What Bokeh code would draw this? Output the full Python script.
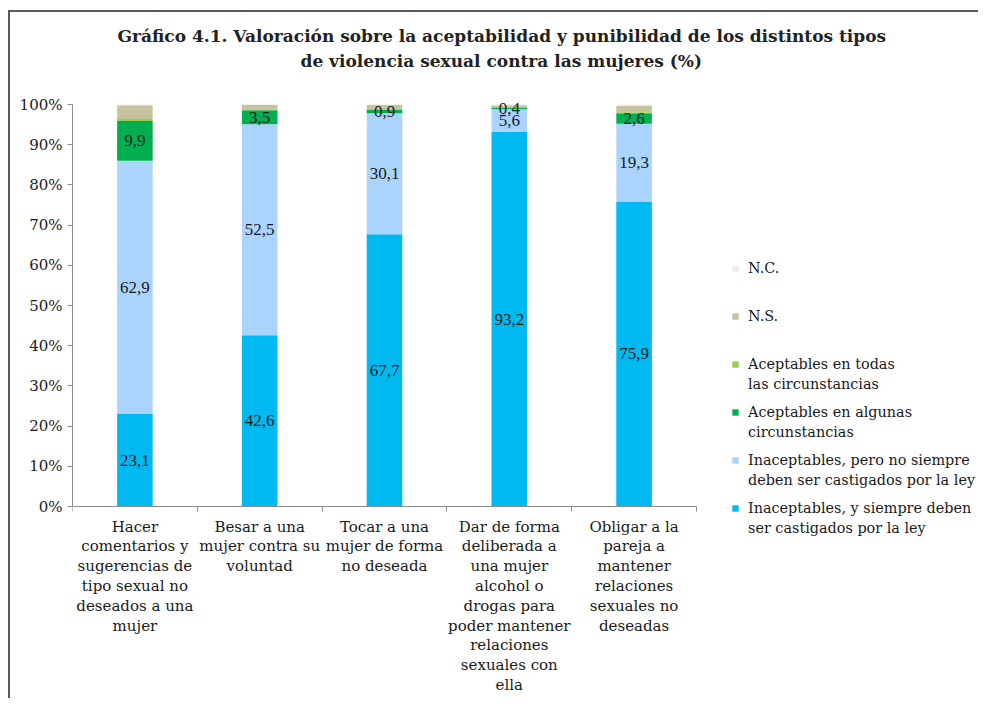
from bokeh.plotting import figure
from bokeh.models import (Range1d, FixedTicker, Legend, LegendItem, ColumnDataSource,
                          LabelSet, PrintfTickFormatter, Title)
from bokeh.embed import file_html
from bokeh.resources import INLINE

# ---------------- data ----------------
categories = [
    "Hacer\ncomentarios y\nsugerencias de\ntipo sexual no\ndeseados a una\nmujer",
    "Besar a una\nmujer contra su\nvoluntad",
    "Tocar a una\nmujer de forma\nno deseada",
    "Dar de forma\ndeliberada a\nuna mujer\nalcohol o\ndrogas para\npoder mantener\nrelaciones\nsexuales con\nella",
    "Obligar a la\npareja a\nmantener\nrelaciones\nsexuales no\ndeseadas",
]
siempre = [23.1, 42.6, 67.7, 93.2, 75.9]   # Inaceptables, y siempre deben ser castigados por la ley
pero_no = [62.9, 52.5, 30.1, 5.6, 19.3]    # Inaceptables, pero no siempre deben ser castigados
algunas = [9.9, 3.5, 0.9, 0.4, 2.6]        # Aceptables en algunas circunstancias
todas = [0.5, 0.2, 0.2, 0.2, 0.3]          # Aceptables en todas las circunstancias
ns = [3.4, 1.1, 1.0, 0.4, 1.5]             # N.S.
nc = [0.2, 0.1, 0.1, 0.2, 0.4]             # N.C.

series_keys = ["siempre", "pero_no", "algunas", "todas", "ns", "nc"]
legend_first = ["Inaceptables, y siempre deben", "Inaceptables, pero no siempre",
                "Aceptables en algunas", "Aceptables en todas", "N.S.", "N.C."]
legend_second = ["ser castigados por la ley", "deben ser castigados por la ley",
                 "circunstancias", "las circunstancias", "", ""]
colors = ["#00B9F1", "#AAD4FE", "#00B050", "#92D050", "#C8C2A0", "#EEEEE4"]
labeled = ["siempre", "pero_no", "algunas"]

y_ticks = list(range(0, 101, 10))
title_line1 = "Gráfico 4.1. Valoración sobre la aceptabilidad y punibilidad de los distintos tipos"
title_line2 = "de violencia sexual contra las mujeres (%)"

FONT = "DejaVu Serif"
TXT = "#1a1a1a"
AX = "#8c8c8c"

# ---------------- layout constants (page pixels) ----------------
OX, OY = 10, 12                # canvas origin on the page (after css margin + border)
W, H = 970, 688
FRAME_L, FRAME_T, FRAME_R, FRAME_B = 72, 72, 980, 690
ZERO_Y, HUNDRED_Y = 506, 104
PX_PER_CAT = 124.8
px_per_pct = (ZERO_Y - HUNDRED_Y) / 100.0
y_start = -(FRAME_B - ZERO_Y) / px_per_pct
y_end = 100 + (HUNDRED_Y - FRAME_T) / px_per_pct
x_end = 0.5 + (FRAME_R - FRAME_L) / PX_PER_CAT

# ---------------- chart ----------------
n = len(categories)
xpos = [i + 1 for i in range(n)]
data = dict(x=xpos, siempre=siempre, pero_no=pero_no, algunas=algunas, todas=todas, ns=ns, nc=nc)
src = ColumnDataSource(data)

p = figure(width=W, height=H, output_backend="svg", toolbar_location=None,
           x_range=Range1d(0.5, x_end), y_range=Range1d(y_start, y_end),
           min_border_left=FRAME_L - OX, min_border_right=OX + W - FRAME_R,
           min_border_top=FRAME_T - OY, min_border_bottom=OY + H - FRAME_B)
p.styles = {"margin-top": "10px", "margin-left": "8px",
            "border-top": "2px solid #5a5a5a", "border-left": "2px solid #5a5a5a",
            "border-right": "0px none", "border-bottom": "0px none"}

renderers = p.vbar_stack(series_keys, x="x", width=0.285, color=colors, source=src, line_color=None)
ghost = p.vbar(x="x", top="nc", width=0.285, source=src, fill_alpha=0, line_alpha=0)

lx, ly, lt = [], [], []
for i in range(n):
    base = 0.0
    for k in series_keys:
        v = data[k][i]
        if k in labeled:
            lx.append(xpos[i])
            ly.append(base + v / 2)
            lt.append(f"{v:.1f}".replace(".", ","))
        base += v
lab_src = ColumnDataSource(dict(x=lx, y=ly, t=lt))
p.add_layout(LabelSet(x="x", y="y", text="t", source=lab_src, text_align="center",
                      text_baseline="middle", text_font=FONT, text_font_size="17px",
                      text_color=TXT))

# title (two centred lines)
t2 = Title(text=title_line2, align="left", offset=228, text_font=FONT, text_font_size="17px",
           text_font_style="bold", text_color="#222222", standoff=4)
t1 = Title(text=title_line1, align="left", offset=45, text_font=FONT, text_font_size="17px",
           text_font_style="bold", text_color="#222222", standoff=2)
p.add_layout(t2, "above")
p.add_layout(t1, "above")

p.xgrid.visible = False
p.ygrid.visible = False
p.outline_line_color = None

xa = p.xaxis[0]
xa.fixed_location = 0
xa.bounds = (0.5, n + 0.5)
xa.ticker = FixedTicker(ticks=xpos, minor_ticks=[i + 0.5 for i in range(n + 1)])
xa.major_label_overrides = {x: c for x, c in zip(xpos, categories)}
xa.major_tick_out = 0
xa.major_tick_in = 0
xa.minor_tick_out = 5
xa.minor_tick_in = 0
xa.minor_tick_line_color = AX
xa.axis_line_color = AX
xa.major_label_text_font = FONT
xa.major_label_text_font_size = "15px"
xa.major_label_text_line_height = 1.1
xa.major_label_text_color = TXT
xa.major_label_standoff = 6

ya = p.yaxis[0]
ya.bounds = (0, 100)
ya.ticker = FixedTicker(ticks=y_ticks)
ya.formatter = PrintfTickFormatter(format="%d%%")
ya.major_tick_out = 5
ya.major_tick_in = 0
ya.minor_tick_line_color = None
ya.axis_line_color = AX
ya.major_tick_line_color = AX
ya.major_label_text_font = FONT
ya.major_label_text_font_size = "15px"
ya.major_label_text_color = TXT
ya.major_label_standoff = 5

# ---------------- legend: first lines with swatches, second lines aligned below ----------------
order = list(reversed(range(len(series_keys))))   # top series first
common = dict(margin=0, padding=0, border_line_alpha=0, background_fill_alpha=0,
              glyph_width=8, glyph_height=8, label_standoff=9, spacing=28, label_height=20,
              label_text_font=FONT, label_text_font_size="14.4px", label_text_color=TXT)
leg_x = 731 - FRAME_L
leg_a = Legend(items=[LegendItem(label=legend_first[j], renderers=[renderers[j]]) for j in order],
               location=(leg_x, FRAME_B - 518), **common)
leg_b = Legend(items=[LegendItem(label=legend_second[j], renderers=[ghost]) for j in order
                      if legend_second[j]],
               location=(leg_x, FRAME_B - 538), **common)
p.add_layout(leg_a, "center")
p.add_layout(leg_b, "center")

open("out.html", "w").write(file_html(p, INLINE))
